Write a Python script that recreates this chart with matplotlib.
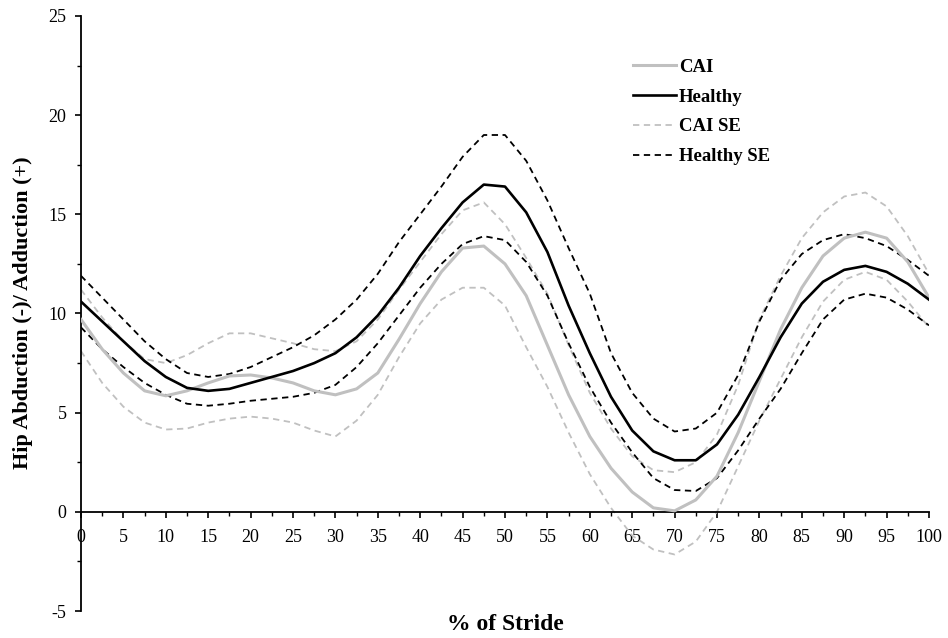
import matplotlib
matplotlib.use("Agg")
import matplotlib.pyplot as plt
from matplotlib.ticker import MultipleLocator

plt.rcParams['font.family'] = ['Liberation Serif', 'DejaVu Serif']
plt.rcParams['axes.unicode_minus'] = False

# % of stride
stride = [0, 2.5, 5, 7.5, 10, 12.5, 15, 17.5, 20, 22.5, 25, 27.5, 30, 32.5, 35, 37.5, 40,
          42.5, 45, 47.5, 50, 52.5, 55, 57.5, 60, 62.5, 65, 67.5, 70, 72.5, 75, 77.5, 80,
          82.5, 85, 87.5, 90, 92.5, 95, 97.5, 100]

# hip abduction(-)/adduction(+), degrees
healthy = [10.6, 9.6, 8.6, 7.6, 6.8, 6.25, 6.1, 6.2, 6.5, 6.8, 7.1, 7.5, 8.0, 8.8, 9.9, 11.3, 12.9,
           14.3, 15.6, 16.5, 16.4, 15.1, 13.1, 10.4, 8.0, 5.8, 4.1, 3.05, 2.6, 2.6, 3.4, 4.9, 6.8,
           8.8, 10.5, 11.6, 12.2, 12.4, 12.1, 11.5, 10.7]
healthy_se_hi = [11.9, 10.8, 9.7, 8.6, 7.7, 7.0, 6.8, 6.95, 7.3, 7.8, 8.3, 8.9, 9.7, 10.7, 12.0, 13.6, 15.0,
                 16.4, 17.9, 19.0, 19.0, 17.7, 15.7, 13.3, 11.0, 8.0, 6.0, 4.7, 4.05, 4.2, 5.0, 6.9, 9.6,
                 11.7, 13.0, 13.7, 14.0, 13.8, 13.4, 12.7, 11.9]
healthy_se_lo = [9.3, 8.2, 7.3, 6.5, 5.9, 5.45, 5.35, 5.45, 5.6, 5.7, 5.8, 6.0, 6.4, 7.3, 8.5, 9.9, 11.3,
                 12.5, 13.5, 13.9, 13.7, 12.6, 10.9, 8.5, 6.3, 4.5, 3.0, 1.7, 1.1, 1.05, 1.7, 3.1, 4.7,
                 6.2, 8.0, 9.7, 10.7, 11.0, 10.8, 10.2, 9.4]

cai = [9.7, 8.2, 7.0, 6.1, 5.85, 6.1, 6.5, 6.85, 6.9, 6.75, 6.5, 6.1, 5.9, 6.2, 7.0, 8.7, 10.5,
       12.1, 13.3, 13.4, 12.5, 10.9, 8.4, 5.9, 3.8, 2.2, 1.0, 0.2, 0.05, 0.6, 1.8, 4.0, 6.6,
       9.2, 11.3, 12.9, 13.8, 14.1, 13.8, 12.6, 10.8]
cai_se_hi = [11.2, 9.8, 8.6, 7.7, 7.5, 7.9, 8.5, 9.0, 9.0, 8.75, 8.5, 8.2, 8.1, 8.6, 9.7, 11.2, 12.6,
             14.0, 15.2, 15.6, 14.5, 12.8, 11.0, 8.4, 6.0, 4.2, 2.8, 2.1, 2.0, 2.5, 3.9, 6.4, 9.7,
             11.9, 13.8, 15.1, 15.9, 16.1, 15.4, 13.9, 12.0]
cai_se_lo = [8.1, 6.5, 5.3, 4.5, 4.15, 4.2, 4.5, 4.7, 4.8, 4.7, 4.5, 4.1, 3.8, 4.6, 5.9, 7.8, 9.5,
             10.7, 11.3, 11.3, 10.4, 8.3, 6.3, 4.0, 1.9, 0.2, -1.2, -1.9, -2.15, -1.5, 0.0, 2.3, 4.6,
             6.7, 8.8, 10.6, 11.7, 12.1, 11.7, 10.6, 9.3]

fig = plt.figure(figsize=(9.48, 6.38), dpi=100)
ax = fig.add_axes([81/948, 27/638, 848/948, 595/638])

grey = '#c0c0c0'
dash = (0, (3.5, 2.5))
ax.plot(stride, cai, color=grey, lw=2.2, label='CAI', zorder=3)
ax.plot(stride, healthy, color='black', lw=1.9, label='Healthy', zorder=4)
ax.plot(stride, cai_se_hi, color=grey, lw=1.3, ls=dash, label='CAI SE')
ax.plot(stride, healthy_se_hi, color='black', lw=1.3, ls=dash, label='Healthy SE')
ax.plot(stride, cai_se_lo, color=grey, lw=1.3, ls=dash)
ax.plot(stride, healthy_se_lo, color='black', lw=1.3, ls=dash)

ax.set_xlim(0, 100)
ax.set_ylim(-5, 25)
ax.spines['top'].set_visible(False)
ax.spines['right'].set_visible(False)
ax.spines['bottom'].set_position(('data', 0))
ax.spines['left'].set_linewidth(1.3)
ax.spines['bottom'].set_linewidth(1.3)

ax.xaxis.set_major_locator(MultipleLocator(5))
ax.xaxis.set_minor_locator(MultipleLocator(2.5))
ax.yaxis.set_major_locator(MultipleLocator(5))
ax.yaxis.set_minor_locator(MultipleLocator(2.5))
ax.tick_params(axis='both', which='major', direction='out', length=4.5, width=1.2, labelsize=13, pad=6)
ax.tick_params(axis='x', which='major', pad=7.5)
ax.tick_params(axis='both', which='minor', direction='out', length=3, width=1.0)

fig.text(23/948, 1 - 313/638, 'Hip Abduction (-)/ Adduction (+)', rotation=90,
         ha='center', va='center', fontsize=16, fontweight='bold')
fig.text(505/948, 1 - 625/638, '% of Stride', ha='center', va='center',
         fontsize=17, fontweight='bold')

leg = ax.legend(loc='upper left', bbox_to_anchor=(616/948, 1 - 42/638),
                bbox_transform=fig.transFigure, frameon=False,
                handlelength=2.3, handletextpad=0.16, labelspacing=0.67,
                prop={'weight': 'bold', 'size': 13.5})

fig.savefig('out.png', dpi=100)
